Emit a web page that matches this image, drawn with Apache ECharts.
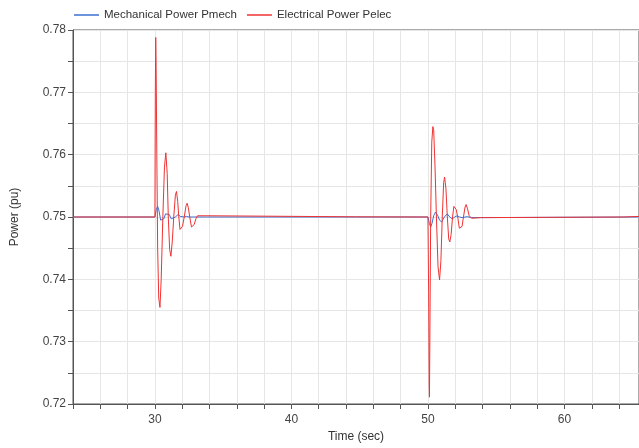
<!DOCTYPE html>
<html>
<head>
<meta charset="utf-8">
<script src="https://cdn.jsdelivr.net/npm/echarts@6/dist/echarts.min.js"></script>
<style>
  html, body { margin: 0; padding: 0; background: #fff; }
  #main { width: 639px; height: 448px; }
</style>
</head>
<body>
<div id="main"></div>
<script>
// values
var seriesNames = ['Mechanical Power Pmech', 'Electrical Power Pelec'];

var tMech = [24, 30.0, 30.1, 30.2, 30.3, 30.42, 30.53, 30.65, 30.78, 30.92, 31.05, 31.2, 31.34, 31.5, 31.7, 31.85, 31.99, 32.15, 32.3, 32.5, 33.8,
  50.0, 50.1, 50.2, 50.3, 50.42, 50.56, 50.7, 50.85, 51.0, 51.2, 51.41, 51.6, 51.78, 51.96, 52.14, 52.32, 52.5, 52.87, 53.2, 53.85, 53.9, 65.5];
var pMech = [0.75, 0.75, 0.7512, 0.7517, 0.751, 0.7495, 0.7492, 0.7497, 0.7505, 0.7508, 0.7504, 0.7497, 0.7496, 0.75, 0.7504, 0.7501, 0.7499, 0.75, 0.7501, 0.75, 0.75,
  0.75, 0.749, 0.7484, 0.749, 0.7502, 0.7508, 0.7503, 0.7495, 0.7492, 0.75, 0.7505, 0.75, 0.7497, 0.75, 0.7502, 0.75, 0.7499, 0.75005, 0.7499, 0.7499, 0.75, 0.75];

var tElec = [24, 30.0, 30.03, 30.06, 30.09, 30.14, 30.2, 30.28, 30.37, 30.46, 30.58, 30.7, 30.8, 30.9, 30.98, 31.08, 31.17, 31.27, 31.38, 31.5, 31.58,
  31.67, 31.75, 31.84, 31.92, 32.02, 32.15, 32.28, 32.36, 32.45, 32.55, 32.68, 32.76, 32.88, 33.0, 33.12, 33.8, 33.85, 44.7, 44.75,
  50.0, 50.05, 50.09, 50.11, 50.14, 50.2, 50.28, 50.36, 50.42, 50.52, 50.62, 50.74, 50.85, 50.95, 51.05, 51.15, 51.22, 51.32, 51.42,
  51.52, 51.6, 51.7, 51.8, 51.9, 51.97, 52.07, 52.18, 52.3, 52.39, 52.5, 52.6, 52.72, 52.8, 52.9, 53.02, 53.19, 53.85, 53.9, 64.3, 64.35, 65.5];
var pElec = [0.75, 0.75, 0.77, 0.7788, 0.774, 0.76, 0.745, 0.737, 0.7355, 0.74, 0.75, 0.758, 0.7603, 0.757, 0.75, 0.7448, 0.7437, 0.746, 0.75, 0.7535, 0.7541,
  0.7525, 0.75, 0.748, 0.7477, 0.7485, 0.75, 0.7518, 0.7522, 0.7515, 0.75, 0.7484, 0.7482, 0.7488, 0.7497, 0.7502, 0.7502, 0.75003, 0.75003, 0.75,
  0.75, 0.738, 0.723, 0.7211, 0.73, 0.75, 0.762, 0.7645, 0.764, 0.758, 0.75, 0.742, 0.7399, 0.743, 0.75, 0.7555, 0.7564, 0.7545, 0.75,
  0.7465, 0.746, 0.7472, 0.75, 0.7517, 0.752, 0.7512, 0.75, 0.7482, 0.7479, 0.7485, 0.75, 0.7516, 0.752, 0.7513, 0.7502, 0.7498, 0.7499, 0.75, 0.75, 0.7501, 0.7501];

function pairs(ts, vs) {
  return ts.map(function (t, i) { return [t, vs[i]]; });
}

var myChart = echarts.init(document.getElementById('main'));
var font = 'Liberation Sans, Arial, sans-serif';

myChart.setOption({
  animation: false,
  textStyle: { fontFamily: font },
  legend: {
    left: 69,
    top: 4,
    icon: 'rect',
    itemWidth: 25,
    itemHeight: 1.5,
    itemGap: 10,
    textStyle: { fontSize: 11.5, color: '#333', fontFamily: font },
    data: seriesNames
  },
  grid: {
    left: 73,
    right: -2,
    top: 30,
    bottom: 41,
    show: true,
    borderColor: '#555',
    borderWidth: 1
  },
  xAxis: {
    type: 'value',
    min: 24,
    max: 65.46,
    interval: 2,
    name: 'Time (sec)',
    nameLocation: 'middle',
    nameGap: 27,
    nameTextStyle: { fontSize: 12, color: '#333' },
    axisLine: { show: true, onZero: false, lineStyle: { color: '#555' } },
    axisTick: { show: true, length: 5, lineStyle: { color: '#555' } },
    axisLabel: {
      color: '#444', fontSize: 12, margin: 10, showMaxLabel: false,
      formatter: function (v) { return (Math.round(v) % 10 === 0) ? String(Math.round(v)) : ''; }
    },
    splitLine: { show: true, lineStyle: { color: '#e6e6e6' } }
  },
  yAxis: {
    type: 'value',
    min: 0.72,
    max: 0.78,
    interval: 0.005,
    name: 'Power (pu)',
    nameLocation: 'middle',
    nameGap: 52,
    nameTextStyle: { fontSize: 12, color: '#333' },
    axisLine: { show: true, lineStyle: { color: '#555' } },
    axisTick: { show: true, length: 5, lineStyle: { color: '#555' } },
    axisLabel: {
      color: '#444', fontSize: 12, margin: 7,
      formatter: function (v) { return (Math.round(v * 1000) % 10 === 0) ? v.toFixed(2) : ''; }
    },
    splitLine: { show: true, lineStyle: { color: '#e6e6e6' } }
  },
  series: [
    {
      name: seriesNames[0],
      type: 'line',
      symbol: 'none',
      color: '#3d6fd1',
      lineStyle: { width: 1 },
      data: pairs(tMech, pMech)
    },
    {
      name: seriesNames[1],
      type: 'line',
      symbol: 'none',
      color: '#ee3333',
      lineStyle: { width: 1 },
      data: pairs(tElec, pElec)
    }
  ]
});
</script>
</body>
</html>
